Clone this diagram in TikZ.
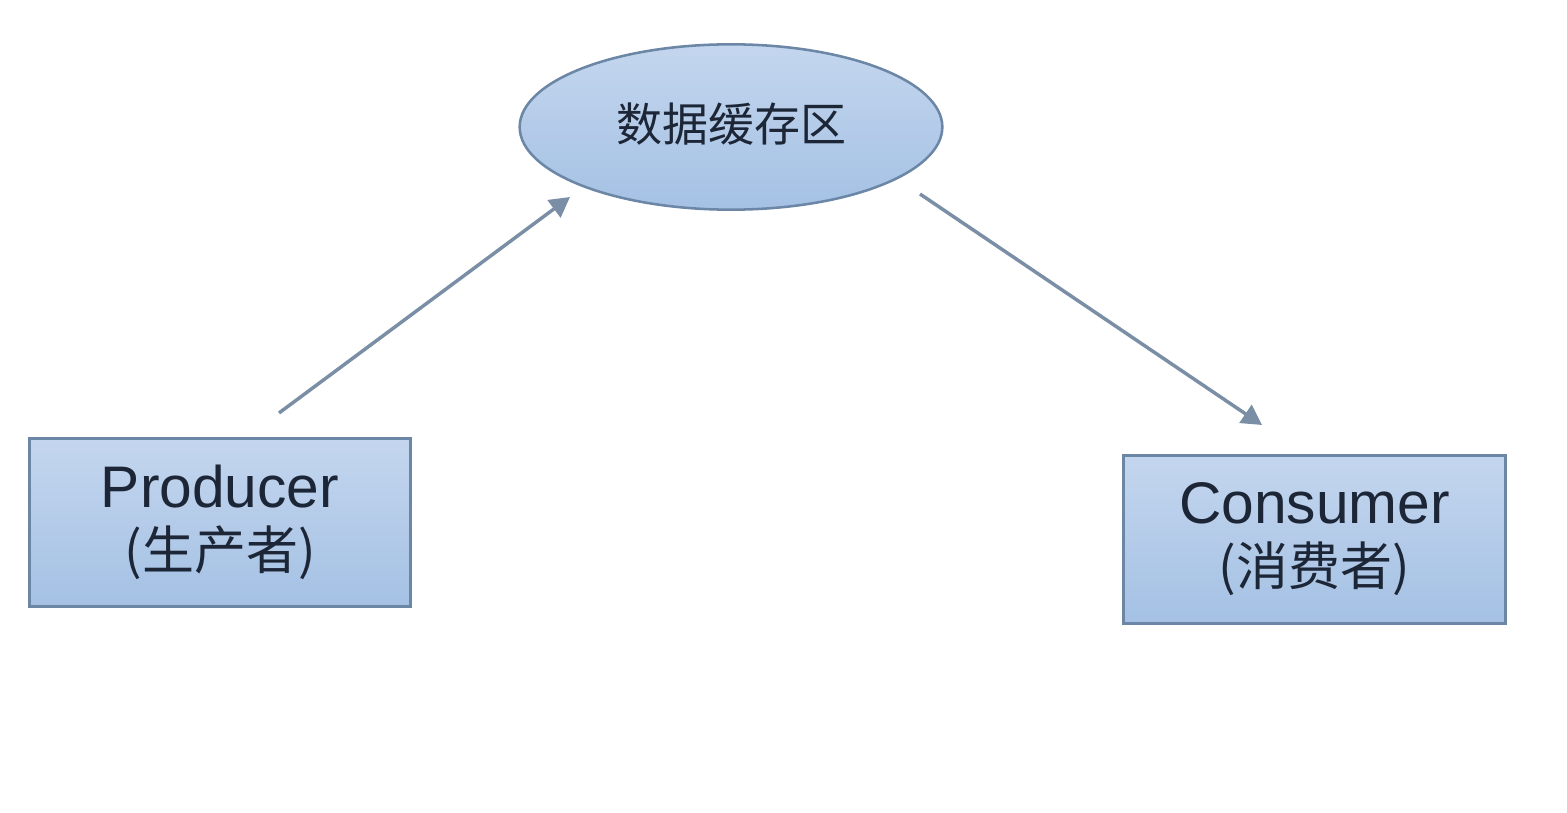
\documentclass[tikz,border=0pt]{standalone}
\usepackage{fontspec}
\setmainfont{Liberation Sans}
\newfontfamily\cjk{Noto Sans CJK SC}
\usetikzlibrary{shapes.geometric,arrows.meta}

\definecolor{boxtop}{RGB}{196,214,238}
\definecolor{boxbot}{RGB}{164,193,228}
\definecolor{boxline}{RGB}{108,134,166}
\definecolor{arrowcol}{RGB}{122,142,165}
\definecolor{txtcol}{RGB}{28,38,54}

\tikzset{
  rolebox/.style={rectangle, draw=boxline, line width=2.25pt, top color=boxtop, bottom color=boxbot,
    minimum width=286pt, minimum height=126pt, align=center, text=txtcol,
    font=\fontsize{44}{48}\selectfont, inner sep=0pt},
  bufnode/.style={ellipse, draw=boxline, line width=1.9pt, top color=boxtop, bottom color=boxbot,
    minimum width=317pt, minimum height=124pt, inner sep=0pt, text=txtcol,
    font=\cjk\fontsize{34.5}{36}\selectfont},
  flow/.style={draw=arrowcol, line width=2.6pt, -{Triangle[length=15pt,width=16pt]}}
}

\begin{document}
\begin{tikzpicture}[x=0.75pt,y=0.75pt,yscale=-1,xscale=1]
\useasboundingbox (0,0) rectangle (1567,813);

%Shape: Ellipse [buffer]
\node[bufnode] (buf) at (731,127) {\raisebox{8pt}{数据缓存区}};
%Shape: Rectangle [producer]
\node[rolebox] (prod) at (220,522.5) {Producer\\[-2pt]{\cjk\fontsize{39}{40}\selectfont (生产者)}};
%Shape: Rectangle [consumer]
\node[rolebox] (cons) at (1314.5,539) {Consumer\\[-2pt]{\cjk\fontsize{39}{40}\selectfont (消费者)}};

% free ends of the arrows
\coordinate (prodout) at (279,413);
\coordinate (bufin) at (570,197);
\coordinate (bufout) at (920,194);
\coordinate (consin) at (1262,425);

%Straight Lines
\draw[flow] (prodout) -- (bufin);
\draw[flow] (bufout) -- (consin);

\end{tikzpicture}
\end{document}
